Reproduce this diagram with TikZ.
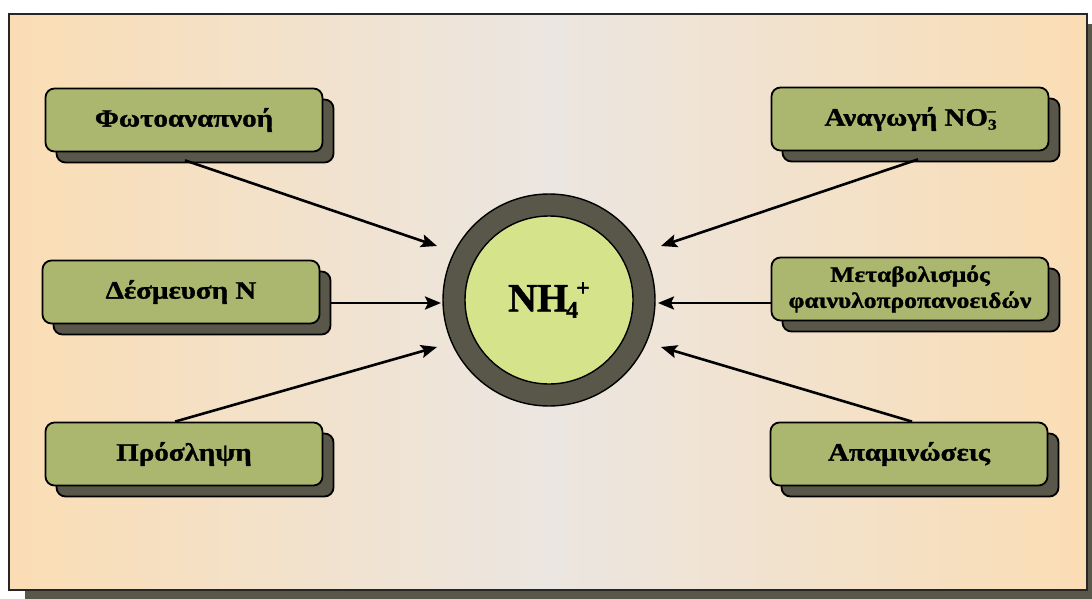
\documentclass[tikz,border=0pt]{standalone}
\usepackage{fontspec}
\setmainfont{Liberation Serif}
\newfontfamily\boxfont{Liberation Serif}[FakeStretch=1.16, FakeBold=1.2]
\newfontfamily\ionfont{Liberation Serif}[FakeBold=1.2]
\usetikzlibrary{arrows.meta,shadows,calc}

\definecolor{bgpeach}{HTML}{FADDB4}
\definecolor{bgmid}{HTML}{EBE6E1}
\definecolor{boxgreen}{HTML}{ABB76F}
\definecolor{shadowgray}{HTML}{58574A}
\definecolor{ringgray}{HTML}{58574A}
\definecolor{limefill}{HTML}{D5E38B}

\newcommand{\chemsub}[1]{\raisebox{-0.35ex}{\fontsize{15}{15}\selectfont #1}}
\newcommand{\chemsup}[1]{\raisebox{0.9ex}{\fontsize{15}{15}\selectfont #1}}

\tikzset{
  procbox/.style={draw=black, line width=1.8pt, fill=boxgreen,
    rounded corners=9pt, minimum width=277pt, minimum height=63pt,
    inner sep=0pt, align=center,
    font=\boxfont\bfseries\fontsize{25}{28}\selectfont,
    copy shadow={shadow xshift=11pt, shadow yshift=-11pt, fill=shadowgray}},
  flow/.style={line width=2.6pt, -{Stealth[length=16pt,width=13pt,inset=3pt]}}
}

\begin{document}
\begin{tikzpicture}[x=1pt,y=-1pt]
  \useasboundingbox (0,0) rectangle (1092,599);
  % frame with its shadow
  \fill[shadowgray] (25,24) rectangle (1092,599);
  \shade[left color=bgpeach, right color=bgpeach, middle color=bgmid]
    (9,14) rectangle (1087,590);
  \draw[line width=2.4pt, black!85] (9,14) rectangle (1087,590);

  % central ion
  \node[circle, draw=black, line width=1.4pt, fill=ringgray,
        minimum size=212pt, inner sep=0pt] (ring) at (549,300) {};
  \node[circle, draw=black, line width=1.4pt, fill=limefill,
        minimum size=168pt, inner sep=0pt,
        font=\ionfont\bfseries\fontsize{40}{40}\selectfont] (nh) at (549,300)
        {NH\kern-0.05em\raisebox{-0.35ex}{\fontsize{24}{24}\selectfont 4}\kern-0.05em\raisebox{0.85ex}{\fontsize{24}{24}\selectfont +}};

  % processes
  \node[procbox] (foto) at (184,120) {Φωτοαναπνοή};
  \node[procbox] (desm) at (181,292) {Δέσμευση Ν};
  \node[procbox] (pros) at (184,454) {Πρόσληψη};
  \node[procbox] (anag) at (910,119) {Αναγωγή NO\chemsub{3}\kern-0.4em\chemsup{–}};
  \node[procbox, font=\boxfont\bfseries\fontsize{22}{26}\selectfont]
        (meta) at (910,289) {Μεταβολισμός\\φαινυλοπροπανοειδών};
  \node[procbox] (apam) at (909,454) {Απαμινώσεις};

  % arrow tips near the ring
  \coordinate (tfoto) at (437,246);
  \coordinate (tdesm) at (441,303);
  \coordinate (tpros) at (437,347);
  \coordinate (tanag) at (661,246);
  \coordinate (tmeta) at (658,303);
  \coordinate (tapam) at (661,347);

  \draw[flow] ([xshift=1pt,yshift=-8pt]foto.south) -- (tfoto);
  \draw[flow] (desm.east |- tdesm) ++(11pt,0) -- (tdesm);
  \draw[flow] ([xshift=-9pt]pros.north) -- (tpros);
  \draw[flow] ([xshift=8pt,yshift=-8pt]anag.south) -- (tanag);
  \draw[flow] (meta.west |- tmeta) -- (tmeta);
  \draw[flow] ([xshift=3pt]apam.north) -- (tapam);
\end{tikzpicture}
\end{document}
